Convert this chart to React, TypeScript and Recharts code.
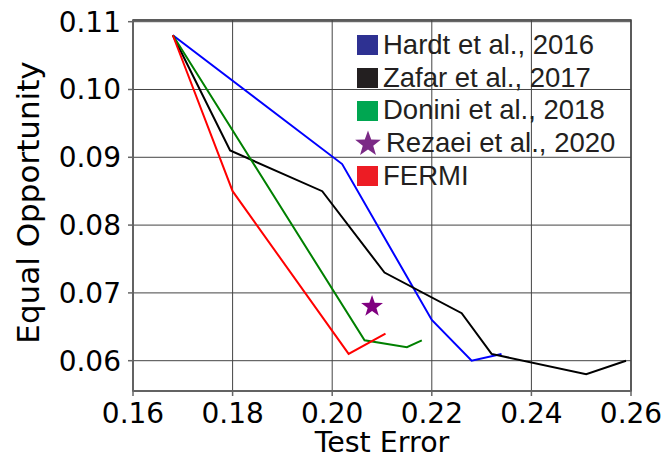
import React from 'react';
import {
  LineChart,
  Line,
  Scatter,
  XAxis,
  YAxis,
  CartesianGrid,
  Legend,
  ReferenceArea,
} from 'recharts';

// values
const hardt = [
  { x: 0.168, y: 0.108 },
  { x: 0.202, y: 0.089 },
  { x: 0.22, y: 0.066 },
  { x: 0.228, y: 0.06 },
  { x: 0.234, y: 0.061 },
];
const zafar = [
  { x: 0.168, y: 0.108 },
  { x: 0.1795, y: 0.091 },
  { x: 0.198, y: 0.085 },
  { x: 0.2105, y: 0.073 },
  { x: 0.226, y: 0.067 },
  { x: 0.232, y: 0.061 },
  { x: 0.251, y: 0.058 },
  { x: 0.259, y: 0.06 },
];
const donini = [
  { x: 0.168, y: 0.108 },
  { x: 0.2065, y: 0.063 },
  { x: 0.215, y: 0.062 },
  { x: 0.218, y: 0.063 },
];
const fermi = [
  { x: 0.168, y: 0.108 },
  { x: 0.18, y: 0.085 },
  { x: 0.2033, y: 0.061 },
  { x: 0.2107, y: 0.064 },
];
const rezaei = [{ x: 0.208, y: 0.068 }];

const xTicks = [0.16, 0.18, 0.2, 0.22, 0.24, 0.26];
const yTicks = [0.06, 0.07, 0.08, 0.09, 0.1, 0.11];
const xDomain = [0.16, 0.26];
const yDomain = [0.05553, 0.11025];

const legendItems = [
  { label: 'Hardt et al., 2016', color: '#2E3192', shape: 'square' },
  { label: 'Zafar et al., 2017', color: '#231F20', shape: 'square' },
  { label: 'Donini et al., 2018', color: '#00A651', shape: 'square' },
  { label: 'Rezaei et al., 2020', color: '#7B2A86', shape: 'star' },
  { label: 'FERMI', color: '#ED1C24', shape: 'square' },
];

const axisFont = 'DejaVu Sans, sans-serif';

function starPoints(cx: number, cy: number, outer: number, inner: number) {
  const pts: string[] = [];
  for (let i = 0; i < 10; i++) {
    const r = i % 2 === 0 ? outer : inner;
    const a = -Math.PI / 2 + (i * Math.PI) / 5;
    pts.push(`${cx + r * Math.cos(a)},${cy + r * Math.sin(a)}`);
  }
  return pts.join(' ');
}

function StarShape(props: any) {
  const { cx, cy, fill } = props;
  return <polygon points={starPoints(cx, cy, 11.5, 4.6)} fill={fill} />;
}

function YLabel(props: any) {
  const vb = props.viewBox || {};
  const cy = vb.y + vb.height / 2 - 3;
  return (
    <text
      x={39}
      y={cy}
      transform={`rotate(-90, 39, ${cy})`}
      textAnchor="middle"
      fontFamily={axisFont}
      fontSize={31}
      fill="#000"
    >
      Equal Opportunity
    </text>
  );
}

function XLabel(props: any) {
  const vb = props.viewBox || {};
  const cx = vb.x + vb.width / 2;
  return (
    <text x={cx} y={452} textAnchor="middle" fontFamily={axisFont} fontSize={28.5} fill="#000">
      Test Error
    </text>
  );
}

function LegendBox() {
  return (
    <div style={{ fontFamily: 'Liberation Sans, Arial, sans-serif', fontSize: 27.5, color: '#231F20' }}>
      {legendItems.map((it) => (
        <div key={it.label} style={{ display: 'flex', alignItems: 'center', height: 32.7, whiteSpace: 'nowrap' }}>
          <svg width={28} height={28} style={{ flex: 'none' }}>
            {it.shape === 'star' ? (
              <polygon points={starPoints(14, 15, 13.5, 5.5)} fill={it.color} />
            ) : (
              <rect x={3} y={4} width={21} height={20} fill={it.color} />
            )}
          </svg>
          <span style={{ marginLeft: it.shape === 'star' ? 4 : 1, lineHeight: '32.7px' }}>{it.label}</span>
        </div>
      ))}
    </div>
  );
}

export default function App() {
  return (
    <div style={{ width: 667, height: 464 }}>
      <style>{'body{margin:0}'}</style>
      <LineChart width={667} height={464} margin={{ top: 20, right: 36, left: 0, bottom: 0 }}>
        <CartesianGrid stroke="#444" strokeWidth={1} />
        <ReferenceArea
          x1={xDomain[0]}
          x2={xDomain[1]}
          y1={yDomain[0]}
          y2={yDomain[1]}
          fill="none"
          stroke="#444"
          strokeWidth={1.5}
          fillOpacity={0}
        />
        <XAxis
          type="number"
          dataKey="x"
          domain={xDomain}
          ticks={xTicks}
          interval={0}
          allowDataOverflow
          height={73}
          tickSize={5}
          tickMargin={7}
          tickFormatter={(v: number) => v.toFixed(2)}
          tick={{ fontFamily: axisFont, fontSize: 28, fill: '#000' }}
          stroke="#666"
          strokeWidth={1.5}
          label={<XLabel />}
        />
        <YAxis
          type="number"
          dataKey="y"
          domain={yDomain}
          ticks={yTicks}
          interval={0}
          allowDataOverflow
          width={133}
          tickSize={5}
          tickMargin={7}
          tickFormatter={(v: number) => v.toFixed(2)}
          tick={{ fontFamily: axisFont, fontSize: 28, fill: '#000' }}
          stroke="#666"
          strokeWidth={1.5}
          label={<YLabel />}
        />
        <Line data={hardt} dataKey="y" stroke="#0000FF" strokeWidth={2} dot={false} isAnimationActive={false} />
        <Line data={zafar} dataKey="y" stroke="#000000" strokeWidth={2} dot={false} isAnimationActive={false} />
        <Line data={donini} dataKey="y" stroke="#008000" strokeWidth={2} dot={false} isAnimationActive={false} />
        <Line data={fermi} dataKey="y" stroke="#FF0000" strokeWidth={2} dot={false} isAnimationActive={false} />
        <Scatter data={rezaei} dataKey="y" fill="#800080" shape={<StarShape />} isAnimationActive={false} />
        <Legend
          layout="vertical"
          align="center"
          verticalAlign="middle"
          content={<LegendBox />}
          wrapperStyle={{ position: 'absolute', left: 354, top: 29, width: 300, height: 170 }}
        />
      </LineChart>
    </div>
  );
}
